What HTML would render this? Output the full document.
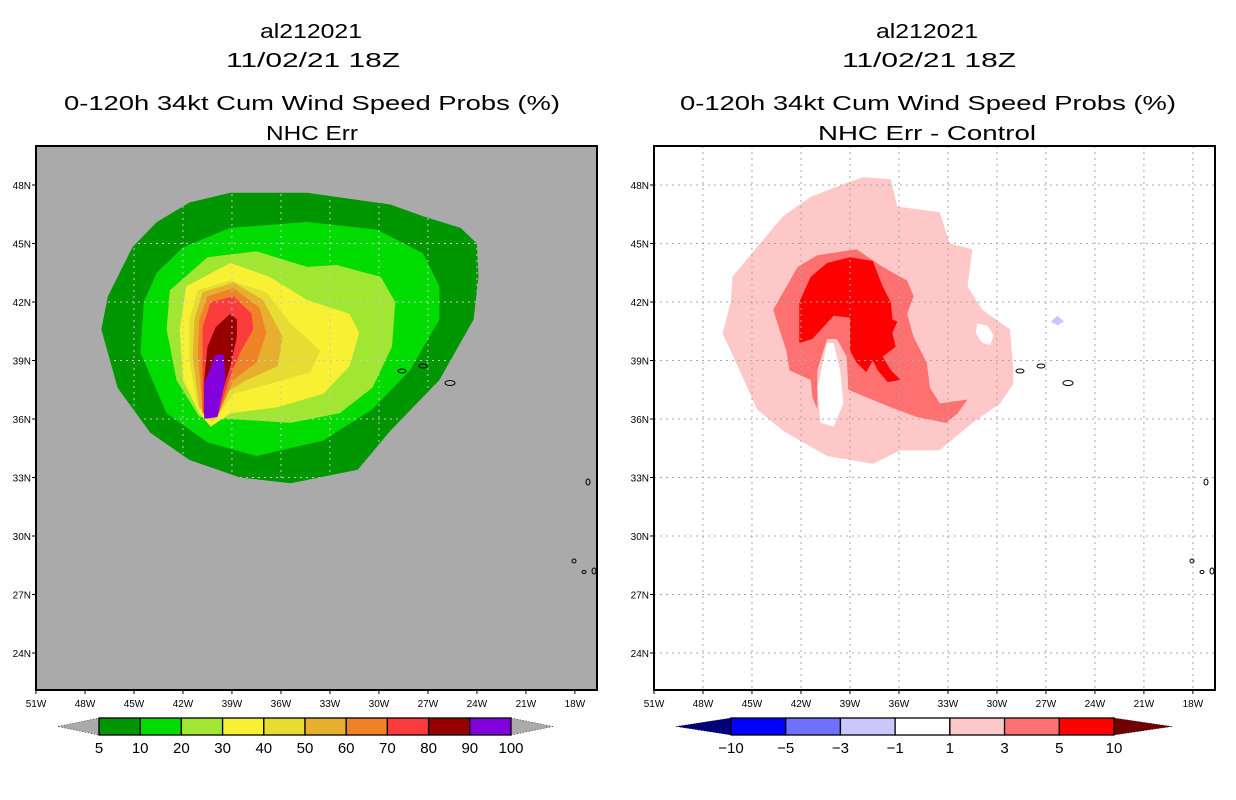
<!DOCTYPE html>
<html><head><meta charset="utf-8"><style>
html,body{margin:0;padding:0;background:#fff;}
svg{display:block;font-family:"Liberation Sans",sans-serif;}
</style></head><body>
<svg id="fig" width="1236" height="800" viewBox="0 0 1236 800" xmlns="http://www.w3.org/2000/svg">
<rect width="1236" height="800" fill="#fff"/>
<g id="titles" font-size="20" fill="#000" text-anchor="middle">
 <text x="311" y="38" textLength="102" lengthAdjust="spacingAndGlyphs">al212021</text>
 <text x="313" y="67" textLength="174" lengthAdjust="spacingAndGlyphs">11/02/21 18Z</text>
 <text x="312" y="110" textLength="496" lengthAdjust="spacingAndGlyphs">0-120h 34kt Cum Wind Speed Probs (%)</text>
 <text x="312" y="140" textLength="92" lengthAdjust="spacingAndGlyphs">NHC Err</text>
 <text x="927" y="38" textLength="102" lengthAdjust="spacingAndGlyphs">al212021</text>
 <text x="929" y="67" textLength="174" lengthAdjust="spacingAndGlyphs">11/02/21 18Z</text>
 <text x="928" y="110" textLength="496" lengthAdjust="spacingAndGlyphs">0-120h 34kt Cum Wind Speed Probs (%)</text>
 <text x="927" y="140" textLength="218" lengthAdjust="spacingAndGlyphs">NHC Err - Control</text>
</g>
<g id="left"></g>
<g id="right"></g>
<g id="cbars"></g>
</svg>
<script>
// ---- data (lon in degrees W, lat in degrees N) ----
const lonTicks = [51,48,45,42,39,36,33,30,27,24,21,18];
const latTicks = [48,45,42,39,36,33,30,27,24];
const probLevels = [5,10,20,30,40,50,60,70,80,90,100];
const probColors = ["#009600","#00dc00","#a0e632","#f8f032","#e6dc32","#e6af2d","#f08228","#fa3c3c","#960000","#8200dc"];
const diffLevels = [-10,-5,-3,-1,1,3,5,10];
const diffColors = ["#0000ff","#7070ff","#c8c8ff","#ffffff","#ffc8c8","#ff7070","#ff0000"];
const prob5 = [[41.6,47.1],[39.1,47.6],[34.4,47.6],[29.3,47.0],[27.3,46.4],[25.0,45.8],[24.0,45.0],[23.9,43.3],[24.2,41.1],[26.3,38.0],[29.3,35.4],[31.3,33.4],[35.4,32.7],[38.5,33.0],[41.6,33.9],[44.0,35.3],[46.0,37.6],[47.0,40.6],[46.6,42.3],[45.1,44.8],[43.6,46.1]];
const prob10 = [[42.0,44.8],[39.1,45.8],[34.4,46.1],[30.1,45.7],[27.3,44.5],[26.3,42.8],[26.3,41.1],[28.1,38.5],[30.4,36.5],[33.4,34.9],[37.5,34.1],[40.5,34.8],[43.0,36.3],[44.6,39.4],[44.4,42.0],[43.6,43.5]];
const prob20 = [[42.8,42.6],[40.5,44.3],[37.5,44.6],[34.4,43.8],[32.6,43.9],[29.9,43.3],[29.0,42.0],[29.2,39.7],[30.4,37.6],[32.4,36.3],[35.4,35.8],[39.1,36.0],[41.0,36.1],[42.4,38.0],[43.0,40.6]];
const prob30 = [[41.8,42.8],[39.1,44.0],[36.7,43.3],[34.4,42.1],[31.8,41.4],[31.2,40.4],[31.8,38.7],[33.4,37.3],[36.2,36.6],[39.1,36.3],[40.3,35.6],[41.0,36.3],[42.0,38.0],[42.2,40.6]];
const prob40 = [[41.1,42.6],[39.1,43.1],[36.9,42.5],[35.4,40.9],[33.6,39.5],[34.2,38.4],[36.7,37.8],[38.9,37.3],[40.2,35.8],[41.1,36.6],[41.6,39.0],[41.6,41.1]];
const prob50 = [[40.8,42.5],[38.9,43.0],[37.1,42.1],[35.9,40.2],[36.2,38.7],[38.1,38.0],[39.5,37.3],[40.2,36.0],[41.0,36.6],[41.4,39.2],[41.3,41.1]];
const prob60 = [[40.5,42.3],[38.9,42.7],[37.3,41.7],[36.9,40.4],[37.5,38.9],[38.9,38.0],[39.9,36.1],[40.8,36.5],[41.1,39.4],[41.0,41.1]];
const prob70 = [[40.3,42.0],[38.9,42.3],[37.8,41.4],[37.7,40.6],[38.5,39.4],[39.1,38.2],[39.9,36.1],[40.8,36.3],[40.8,38.7],[40.8,40.7]];
const prob80 = [[40.0,40.7],[39.1,41.4],[38.7,41.1],[38.7,40.2],[39.1,38.7],[39.5,37.6],[39.9,36.3],[40.7,36.1],[40.7,38.0],[40.5,39.7]];
const prob90 = [[40.0,39.3],[39.5,39.3],[39.4,38.0],[39.9,36.1],[40.7,36.0],[40.7,37.8]];
const diffPink = [[46.2,43.3],[44.7,44.8],[43.1,46.4],[41.4,47.4],[39.2,48.1],[38.2,48.4],[36.5,48.3],[36.1,46.9],[33.5,46.6],[32.9,45.0],[31.5,44.7],[31.8,42.8],[30.9,41.6],[29.2,40.6],[29.0,38.5],[29.0,37.8],[29.8,36.8],[31.5,35.8],[33.5,34.4],[35.9,34.4],[37.6,33.7],[40.4,34.1],[43.1,35.4],[44.7,36.5],[45.7,38.4],[46.8,40.4],[46.3,42.0]];
const diffMid = [[43.7,41.6],[42.2,43.8],[41.0,44.4],[38.6,44.7],[37.0,43.8],[35.5,43.1],[35.1,42.3],[35.5,41.4],[35.1,40.2],[34.3,38.9],[34.1,37.6],[33.5,36.8],[31.8,37.0],[32.4,36.3],[33.1,35.8],[34.9,36.1],[36.5,36.6],[39.1,37.5],[39.2,39.2],[39.8,40.1],[40.4,40.1],[41.0,38.5],[41.0,36.5],[41.3,37.1],[41.4,38.0],[42.7,38.5],[42.9,39.5]];
const diffRed = [[42.1,42.0],[41.4,43.3],[40.4,44.0],[39.0,44.3],[37.6,44.1],[37.0,42.8],[36.5,42.0],[36.4,41.1],[36.1,41.0],[36.4,40.4],[36.2,39.7],[37.0,39.2],[36.5,38.5],[35.9,38.0],[36.7,37.9],[37.3,38.5],[37.6,39.0],[38.0,38.4],[38.6,38.9],[39.0,39.5],[39.0,41.2],[40.0,41.3],[41.3,40.1],[42.1,39.9]];
const diffHole = [[40.4,39.9],[40.0,39.9],[39.6,38.5],[39.4,36.8],[40.0,35.6],[40.8,35.8],[41.0,37.6]];
const diffHole2 = [[31.2,40.9],[30.6,40.8],[30.2,40.3],[30.4,39.8],[30.9,39.9],[31.3,40.4]];
const diffBlue = [[26.7,41.0],[26.3,41.3],[25.9,41.0],[26.3,40.8]];

// ---- axes ----
const NS="http://www.w3.org/2000/svg";
const X0L=36, X0R=654, PW=561, YT=146, YB=690;
const LONW0=51, PXDEG=16.33, LAT0=50, PYDEG=19.5;
function xs(lon,x0){return x0+(LONW0-lon)*PXDEG;}
function ys(lat){return YT+(LAT0-lat)*PYDEG;}
function mk(tag,attrs,parent){const e=document.createElementNS(NS,tag);for(const k in attrs)e.setAttribute(k,attrs[k]);parent.appendChild(e);return e;}
function ptsStr(pts,x0){return pts.map(p=>xs(p[0],x0).toFixed(1)+","+ys(p[1]).toFixed(1)).join(" ");}
function poly(pts,x0,fill,parent,name){
  const e=mk("polygon",{points:ptsStr(pts,x0),fill:fill},parent);
  
  
  return e;
}
function panel(g,x0,bg){
  const clip=mk("clipPath",{id:"clip"+x0},g);
  mk("rect",{x:x0,y:YT,width:PW,height:YB-YT},clip);
  const bgr=mk("rect",{x:x0,y:YT,width:PW,height:YB-YT,fill:bg},g);
  
  
  const fills=mk("g",{"clip-path":"url(#clip"+x0+")"},g);
  
  
  return fills;
}
function gridAndAxes(g,x0,gridCol,gridClip){
  const gg=mk("g",gridClip?{"clip-path":"url(#"+gridClip+")"}:{},g);
  
  
  lonTicks.forEach(l=>{const x=xs(l,x0);
    if(l<51){const ln=mk("line",{x1:x,x2:x,y1:YT,y2:YB,stroke:gridCol,"stroke-width":1,"stroke-dasharray":"2,4"},gg);
      
      }
    const t=mk("line",{x1:x,x2:x,y1:YB,y2:YB+4,stroke:"#000"},g);
    
    
    const tx=mk("text",{x:x,y:YB+17,"font-size":10,"text-anchor":"middle"},g);
    tx.textContent=l+"W";
    
    
  });
  latTicks.forEach(l=>{const y=ys(l);
    const ln=mk("line",{x1:x0,x2:x0+PW,y1:y,y2:y,stroke:gridCol,"stroke-width":1,"stroke-dasharray":"2,4"},gg);
    
    
    const t=mk("line",{x1:x0-4,x2:x0,y1:y,y2:y,stroke:"#000"},g);
    
    
    const tx=mk("text",{x:x0-5,y:y+4,"font-size":10,"text-anchor":"end"},g);
    tx.textContent=l+"N";
    
    
  });
  const isl=[[402,371,4,2],[423,366,4,2],[450,383,5,2.5],[588,482,2,3],[574,561,2,2],[584,572,2,1.5],[594,571,2,3]];
  isl.forEach(a=>{const e=mk("ellipse",{cx:a[0]-36+x0,cy:a[1],rx:a[2],ry:a[3],fill:"none",stroke:"#000","stroke-width":1},g);
    
    });
  const fr=mk("rect",{x:x0,y:YT,width:PW,height:YB-YT,fill:"none",stroke:"#000","stroke-width":2},g);
  
  
}
const L=document.getElementById("left");
const fl=panel(L,X0L,"#aaaaaa");
[prob5,prob10,prob20,prob30,prob40,prob50,prob60,prob70,prob80,prob90].forEach((p,i)=>poly(p,X0L,probColors[i],fl,"prob-contour-"+probLevels[i]));
const gc=mk("clipPath",{id:"gridclipL"},L);
mk("polygon",{points:ptsStr(prob5,X0L)},gc);
gridAndAxes(L,X0L,"#c8c8c8","gridclipL");
const R=document.getElementById("right");
const fr=panel(R,X0R,"#ffffff");
poly(diffPink,X0R,diffColors[4],fr,"diff-contour-1-3");
poly(diffHole2,X0R,diffColors[3],fr,"diff-hole-east");
poly(diffMid,X0R,diffColors[5],fr,"diff-contour-3-5");
poly(diffRed,X0R,diffColors[6],fr,"diff-contour-5-10");
poly(diffHole,X0R,diffColors[3],fr,"diff-hole");
poly(diffBlue,X0R,diffColors[2],fr,"diff-contour-neg");
gridAndAxes(R,X0R,"#a8a8a8",null);

// ---- colorbars ----
const C=document.getElementById("cbars");
function cbar(x0,x1,tl,tr,colors,labels,lc,rc,nm){
  const y0=718,y1=735,ym=(y0+y1)/2,n=colors.length,w=(x1-x0)/n;
  const a=mk("polygon",{points:`${tl},${ym} ${x0},${y0} ${x0},${y1}`,fill:lc,stroke:"#000","stroke-width":0.6,"stroke-dasharray":"1,2"},C);
   
  const b=mk("polygon",{points:`${tr},${ym} ${x1},${y0} ${x1},${y1}`,fill:rc,stroke:"#000","stroke-width":0.6,"stroke-dasharray":"1,2"},C);
   
  colors.forEach((c,i)=>{const r=mk("rect",{x:x0+i*w,y:y0,width:w,height:y1-y0,fill:c,stroke:"#000","stroke-width":1.3},C);
     });
  labels.forEach((l,i)=>{const t=mk("text",{x:x0+i*w,y:753,"font-size":15,"text-anchor":"middle"},C);
    t.textContent=String(l).replace("-","\u2212");
     });
}
cbar(99,511,58,553,probColors,probLevels,"#aaaaaa","#aaaaaa","prob-colorbar");
cbar(731,1114,676,1172,diffColors,diffLevels,"#000078","#6e0000","diff-colorbar");
</script>
</body></html>
